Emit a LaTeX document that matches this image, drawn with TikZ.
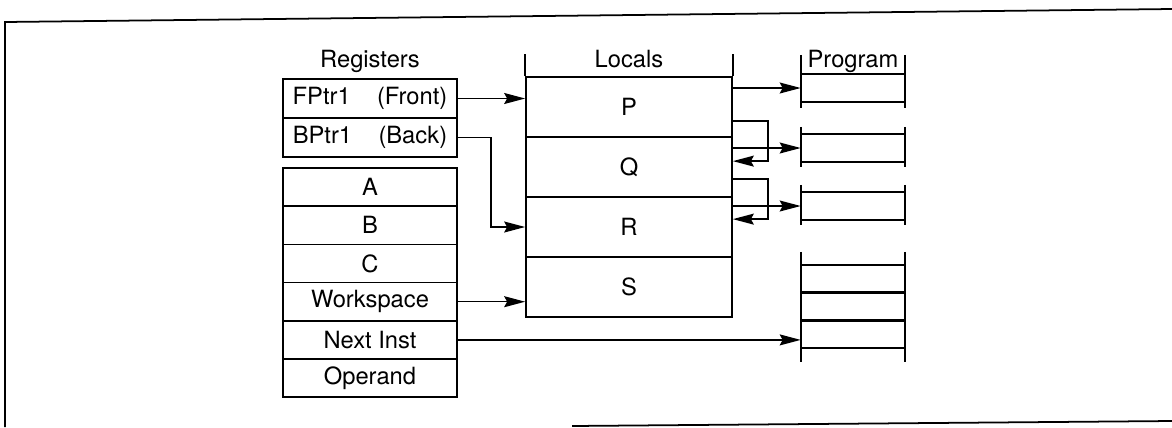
\documentclass[tikz,border=0pt]{standalone}
\usepackage{fontspec}
\setmainfont{TeX Gyre Heros}
\usetikzlibrary{arrows.meta}
\begin{document}
\begin{tikzpicture}[>={Stealth[length=4.2mm, width=2.2mm, inset=0.6mm]}, x=0.02cm, y=-0.02cm,
    reg/.style={draw, line width=1pt, minimum width=3.48cm, minimum height=0.764cm, inner sep=0pt, font=\fontsize{13.5}{15}\selectfont},
    ptr/.style={reg, minimum height=0.78cm},
    loc/.style={draw, line width=1pt, minimum width=4.12cm, minimum height=1.2cm, inner sep=0pt, font=\fontsize{13.5}{15}\selectfont},
    slot/.style={minimum width=2.08cm, minimum height=0.556cm, inner sep=0pt},
    hd/.style={anchor=base, inner sep=0pt, font=\fontsize{13.5}{15}\selectfont},
    link/.style={->, line width=0.8pt}]
    \useasboundingbox (0,0) rectangle (1172,427);
    % frame
    \draw[line width=1pt] (1172,9) -- (5,22) -- (5,427);
    \draw[line width=1pt] (572,426) -- (1172,421);
    % registers
    \node[hd] (reghd) at (370,67) {Registers};
    \node[ptr] (fptr) at (370,98.5) {FPtr1\hspace{15pt}(Front)};
    \node[ptr] (bptr) at (370,137.5) {BPtr1\hspace{15pt}(Back)};
    \node[reg] (a) at (370,187.1) {A};
    \node[reg] (b) at (370,225.3) {B};
    \node[reg] (c) at (370,263.5) {C};
    \node[reg] (ws) at (370,301.7) {Workspace};
    \node[reg] (nxt) at (370,339.9) {Next Inst};
    \node[reg] (opd) at (370,378.1) {Operand};
    % locals
    \node[hd] (lochd) at (629,67) {Locals};
    \node[loc] (p) at (629,107) {P};
    \node[loc] (q) at (629,167) {Q};
    \node[loc] (r) at (629,227) {R};
    \node[loc] (s) at (629,287) {S};
    \draw[line width=1pt] (p.north west) -- ++(0,-22) (p.north east) -- ++(0,-22);
    % program
    \node[hd] (proghd) at (853,67) {Program};
    \node[slot] (s1) at (853,88) {};
    \node[slot] (s2) at (853,148) {};
    \node[slot] (s3) at (853,206) {};
    \node[slot] (s4a) at (853,279) {};
    \node[slot] (s4b) at (853,306.5) {};
    \node[slot] (s4c) at (853,334) {};
    \foreach \n in {s1, s2, s3, s4a, s4b, s4c}
        \draw[line width=1pt] (\n.north west) -- (\n.north east) (\n.south west) -- (\n.south east);
    \foreach \t/\b/\u/\d in {s1/s1/19/6, s2/s2/7/5, s3/s3/7/5, s4a/s4c/13/14}
        \draw[line width=1pt] ([yshift=\u*0.02cm]\t.north west) -- ([yshift=-\d*0.02cm]\b.south west)
            ([yshift=\u*0.02cm]\t.north east) -- ([yshift=-\d*0.02cm]\b.south east);
    % pointers into the frame
    \draw[link] (fptr.east) -- (fptr.east -| p.west);
    \draw[link] (bptr.east) -- ++(33,0) |- (r.west);
    \draw[link] (ws.east) -- (ws.east -| s.west);
    \draw[link] (nxt.east) -- (nxt.east -| s4c.west);
    % locals to program
    \foreach \n in {s1, s2, s3} \draw[link] (\n.west -| p.east) -- (\n.west);
    \draw[link] ([yshift=0.34cm]p.south east) -- ++(35,0) |- ([yshift=-0.5cm]q.north east);
    \draw[link] ([yshift=0.38cm]q.south east) -- ++(35,0) |- ([yshift=-0.46cm]r.north east);
\end{tikzpicture}
\end{document}
